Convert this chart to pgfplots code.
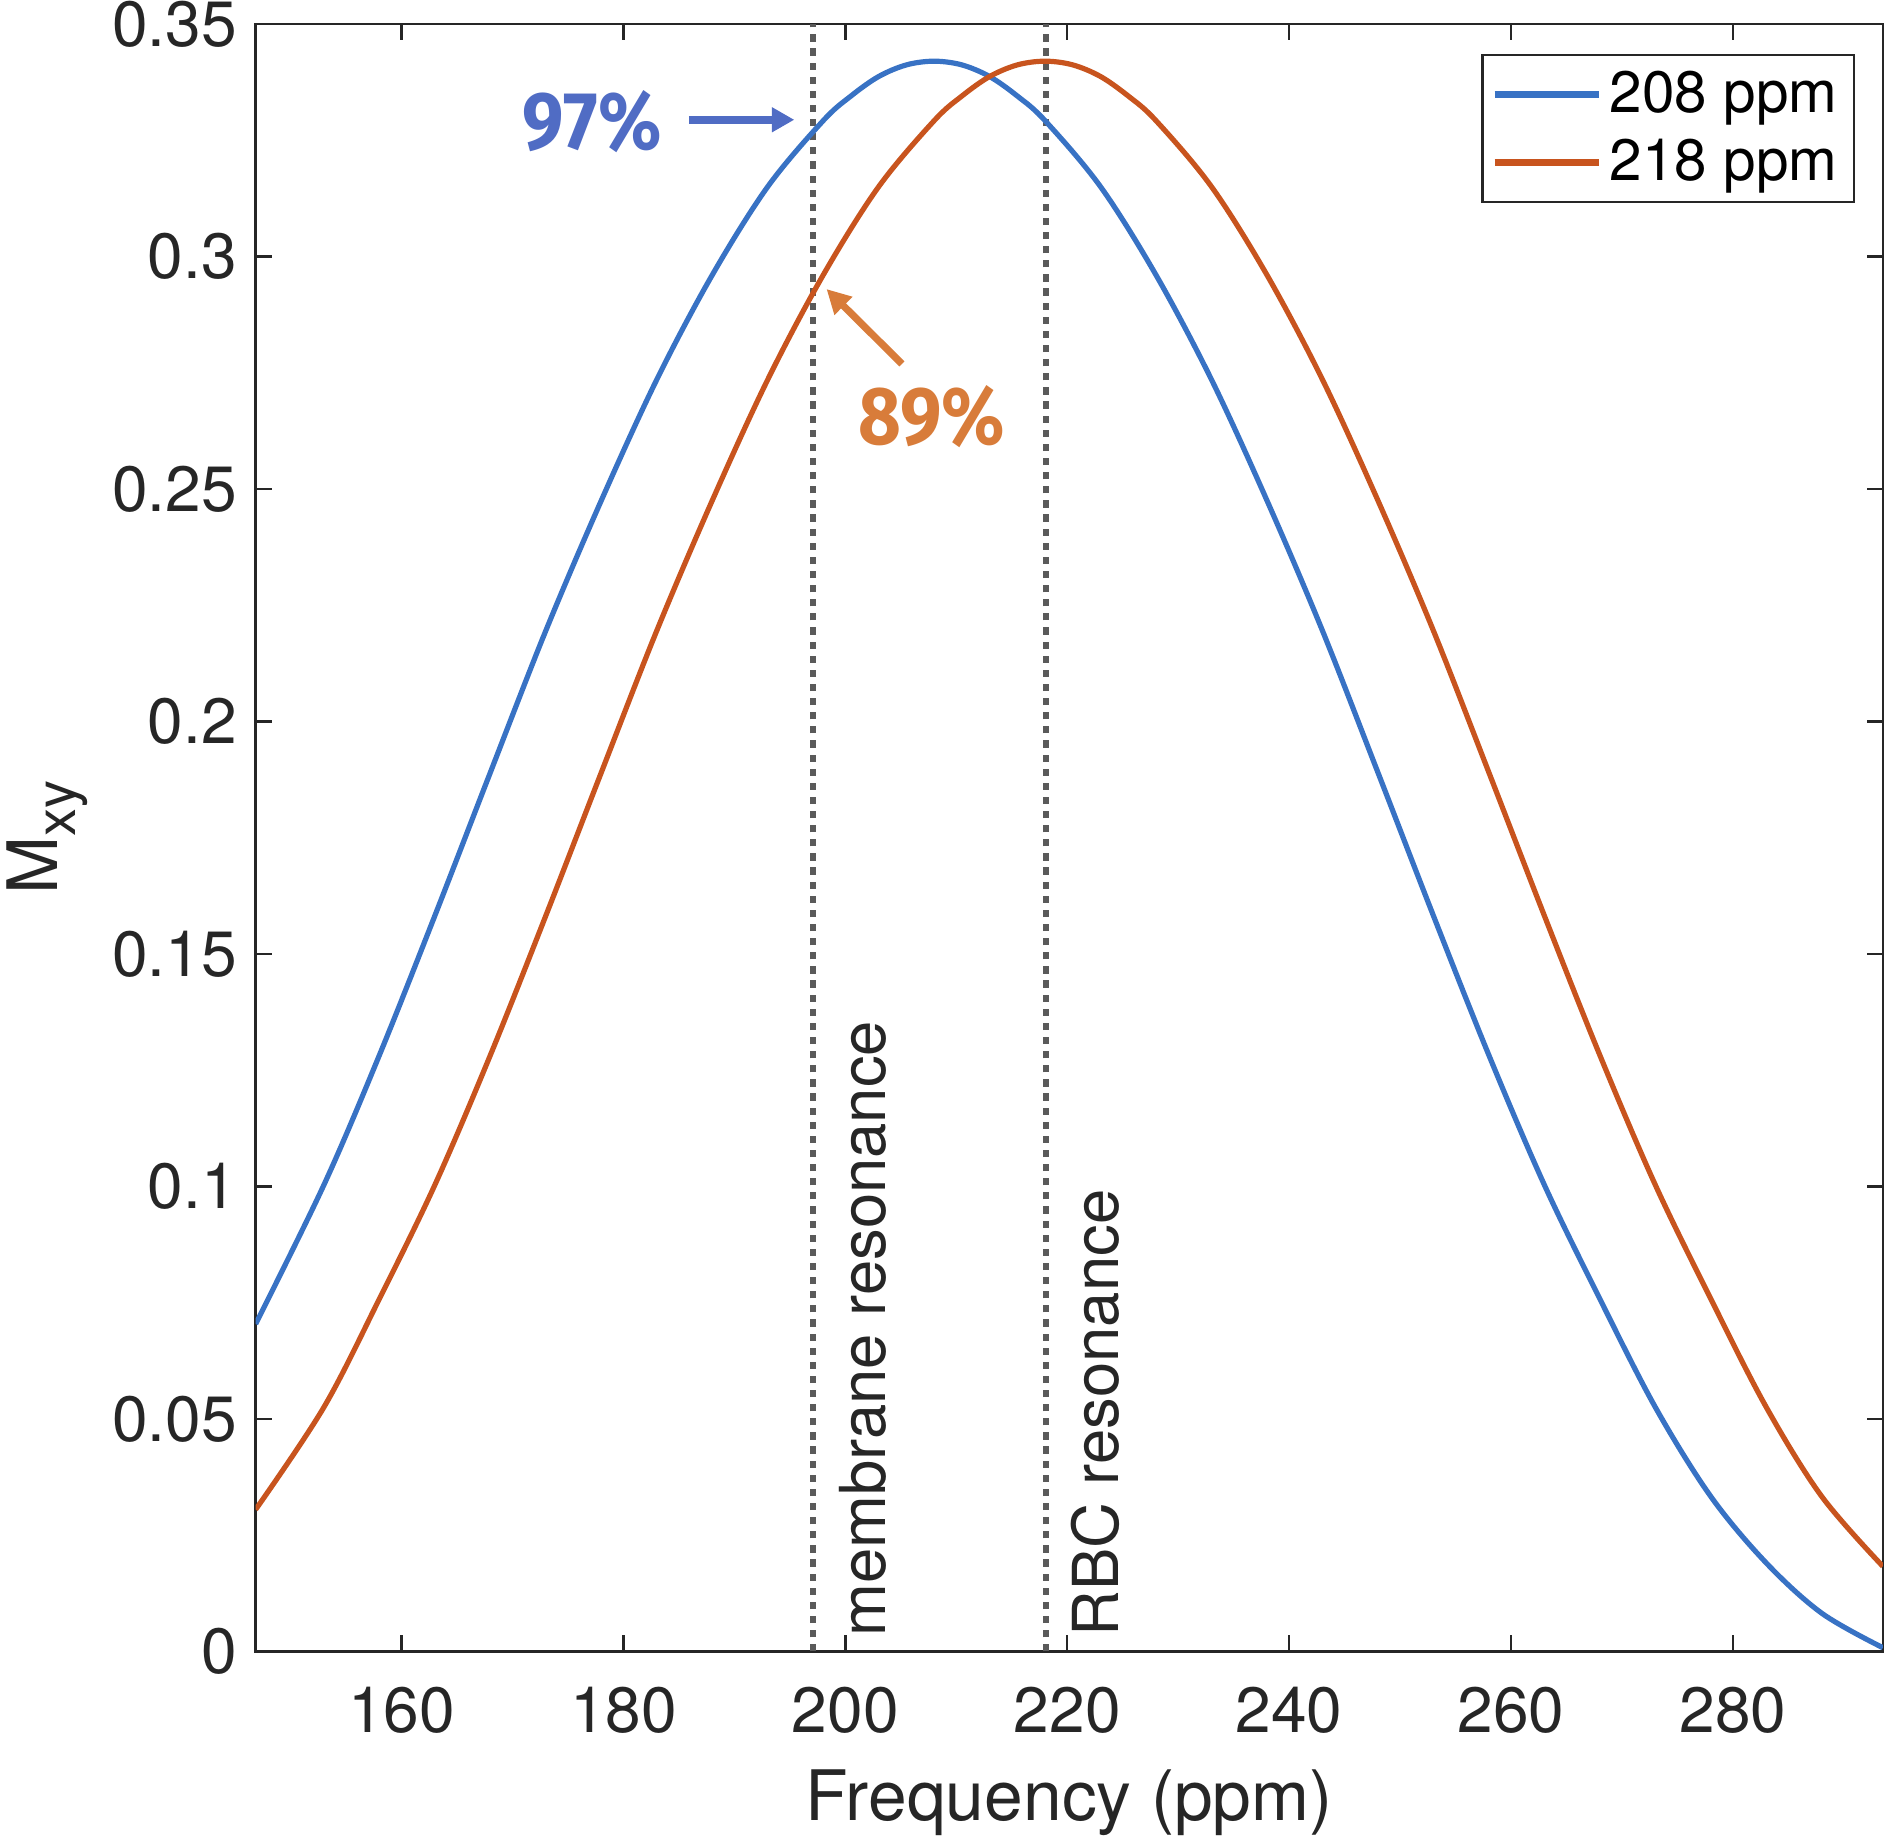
\documentclass[border=0pt]{standalone}
\usepackage{fontspec}
\setmainfont{TeX Gyre Heros}
\newfontfamily\annfont{Fira Sans}
\usepackage{graphicx}
\usepackage{pgfplots}
\pgfplotsset{compat=1.18}
\usetikzlibrary{arrows.meta}

\definecolor{mblue}{RGB}{56,114,196}
\definecolor{morange}{RGB}{200,84,30}
\definecolor{annblue}{RGB}{80,108,196}
\definecolor{annorange}{RGB}{216,124,58}
\definecolor{axgray}{RGB}{38,38,38}
\definecolor{dotgray}{RGB}{90,90,90}

\begin{document}
\begin{tikzpicture}
\begin{axis}[
  scale only axis,
  width=406.75pt, height=406.8pt,
  xmin=146.85, xmax=293.5, ymin=0, ymax=0.35,
  xtick={160,180,200,220,240,260,280},
  ytick={0,0.05,0.1,0.15,0.2,0.25,0.3,0.35},
  tick align=inside,
  major tick length=4pt,
  axis line style={axgray, line width=0.6pt},
  every tick/.style={axgray, line width=0.6pt},
  /pgf/number format/assume math mode=true,
  tick label style={font=\fontsize{16}{18}\selectfont, text=axgray},
  yticklabel style={/pgf/number format/fixed, /pgf/number format/precision=2, xshift=-1.2pt},
  xticklabel style={/pgf/number format/fixed, yshift=-5.5pt},
  xlabel={Frequency (ppm)},
  ylabel={M\raisebox{-4.5pt}{\fontsize{14}{14}\selectfont xy}},
  label style={font=\fontsize{17.4}{20}\selectfont, text=axgray},
  xlabel style={at={(axis description cs:0.5,-0.1037)}, anchor=base},
  ylabel style={at={(axis description cs:-0.1217,0.5)}, anchor=base, rotate=0},
  legend style={at={(axis description cs:0.983,0.9818)}, anchor=north east,
    draw=axgray, line width=0.6pt, font=\fontsize{14.6}{17}\selectfont,
    inner xsep=2.2pt, inner ysep=2pt, row sep=1.1pt},
  legend image code/.code={\draw[#1, line width=1.6pt] (0pt,0pt) -- (26pt,0pt);},
  legend cell align=left,
  clip=true,
]
\addplot[dotgray, line width=1.5pt, dash pattern=on 1.8pt off 1.73pt, forget plot]
  coordinates {(197.1,0) (197.1,0.35)};
\addplot[dotgray, line width=1.5pt, dash pattern=on 1.8pt off 1.73pt, forget plot]
  coordinates {(218.1,0) (218.1,0.35)};

\addplot[mblue, line width=1.3pt, smooth, tension=0.55] coordinates {
(146.85,0.0704) (153,0.1003) (158,0.1282) (163,0.1582) (168,0.1890) (173,0.2195)
(178,0.2475) (183,0.2735) (188,0.2960) (193,0.3150) (198,0.3292) (200.5,0.3345)
(203,0.3387) (205.5,0.3412) (208,0.3420) (210.5,0.3412) (213,0.3387) (215.5,0.3345)
(218,0.3292) (223,0.3150) (228,0.2960) (233,0.2735)
(238,0.2475) (243,0.2195) (248,0.1890) (253,0.1582) (258,0.1282) (263,0.1003)
(268,0.0758) (273,0.0525) (278,0.0333) (283,0.0190) (288,0.0082) (293.5,0.0008)
};
\addlegendentry{208 ppm}
\addplot[morange, line width=1.3pt, smooth, tension=0.55] coordinates {
(146.85,0.0305) (153,0.0525) (158,0.0758) (163,0.1003) (168,0.1282) (173,0.1582)
(178,0.1890) (183,0.2195) (188,0.2475) (193,0.2735) (198,0.2960) (203,0.3150)
(208,0.3292) (210.5,0.3345) (213,0.3387) (215.5,0.3412) (218,0.3420) (220.5,0.3412)
(223,0.3387) (225.5,0.3345) (228,0.3292) (233,0.3150)
(238,0.2960) (243,0.2735) (248,0.2475) (253,0.2195) (258,0.1890) (263,0.1582)
(268,0.1282) (273,0.1003) (278,0.0758) (283,0.0525) (288,0.0333) (293.5,0.0183)
};
\addlegendentry{218 ppm}

\node[rotate=90, anchor=base west, text=axgray, font=\fontsize{15.85}{18}\selectfont, inner sep=0pt]
  at (axis cs:203.6,0.003) {membrane resonance};
\node[rotate=90, anchor=base west, text=axgray, font=\fontsize{15.85}{18}\selectfont, inner sep=0pt]
  at (axis cs:224.6,0.003) {RBC resonance};

\node[text=annblue, font=\annfont\bfseries\fontsize{20.5}{22}\selectfont, inner sep=0pt]
  at (axis cs:177.2,0.3289) {\scalebox{0.9}[1]{97\%}};
\node[text=annorange, font=\annfont\bfseries\fontsize{20.5}{22}\selectfont, inner sep=0pt]
  at (axis cs:207.8,0.2655) {\scalebox{0.9}[1]{89\%}};

\draw[annblue, line width=1.9pt, -{Triangle[length=5.6pt,width=5.9pt]}]
  (axis cs:185.9,0.3294) -- (axis cs:195.4,0.3294);
\draw[annorange, line width=1.8pt, -{Triangle[length=6pt,width=6pt]}]
  (axis cs:205.1,0.2769) -- (axis cs:198.3,0.2930);
\end{axis}
\pgfresetboundingbox
\path ([shift={(-63.9pt,-46.4pt)}]current axis.south west) rectangle ([shift={(1.8pt,6pt)}]current axis.north east);
\end{tikzpicture}
\end{document}
